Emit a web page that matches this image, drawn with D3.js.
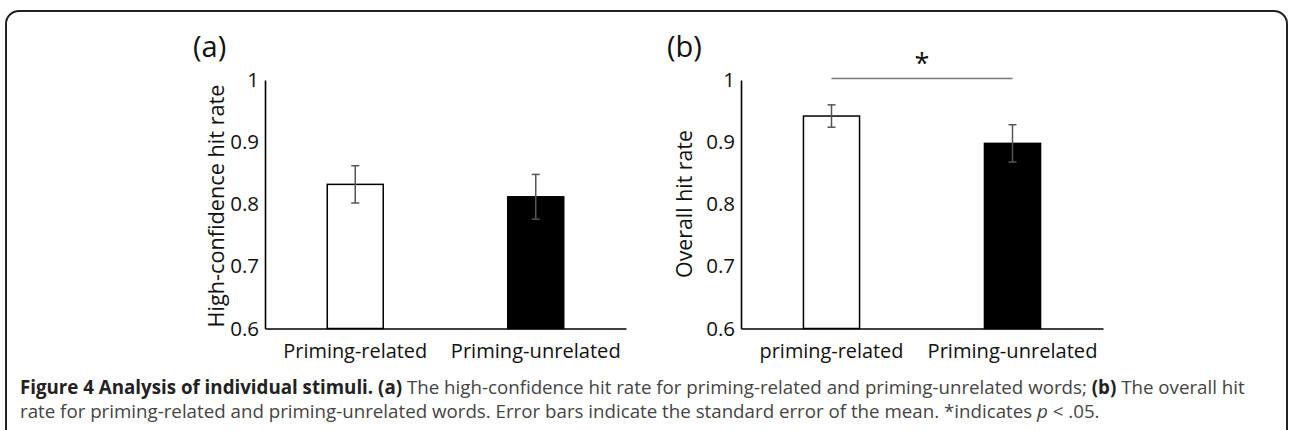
<!DOCTYPE html>
<html><head><meta charset="utf-8">
<script src="https://cdn.jsdelivr.net/npm/d3@7"></script>
<style>body{margin:0;background:#fff}svg{display:block}text{font-family:"Open Sans",sans-serif}</style>
</head><body>
<svg id="c" width="1289" height="430"></svg>
<script>
// ---- data ----
const categoriesA = ["Priming-related", "Priming-unrelated"];
const categoriesB = ["priming-related", "Priming-unrelated"];
const highConfMean = [0.832, 0.812];
const highConfSE = [0.030, 0.036];
const overallMean = [0.942, 0.898];
const overallSE = [0.018, 0.030];
const yTicks = [0.6, 0.7, 0.8, 0.9, 1];
const barFills = ["#ffffff", "#000000"];

const svg = d3.select("#c");

function fit(sel, target) {
  const n = sel.node();
  const fs = parseFloat(sel.attr("font-size"));
  const w = n.getComputedTextLength();
  sel.attr("font-size", fs * target / w);
}

// outer rounded frame
svg.append("rect").attr("x", 6).attr("y", 11).attr("width", 1281).attr("height", 440)
  .attr("rx", 13).attr("fill", "none").attr("stroke", "#222").attr("stroke-width", 2);

function panel(opt) {
  const g = svg.append("g").attr("transform", `translate(${opt.x0},0)`);
  const y = d3.scaleLinear().domain([0.6, 1]).range([328.5, 80]);
  const x = d3.scaleBand().domain(opt.cats).range([0, opt.w]).paddingInner(0.69).paddingOuter(0.345);

  // y axis
  const ya = g.append("g").call(d3.axisLeft(y).tickValues(yTicks).tickSize(0).tickPadding(6)
      .tickFormat(d => d === 1 ? "1" : d3.format(".1f")(d)));
  ya.select(".domain").attr("stroke", "#000").attr("stroke-width", 1.6);
  ya.selectAll("text").attr("font-size", 20.5).attr("fill", "#111").style("font-family", '"Open Sans",sans-serif');

  // bars
  g.selectAll("rect.bar").data(opt.mean).join("rect").attr("class", "bar")
    .attr("x", (d, i) => x(opt.cats[i])).attr("width", x.bandwidth())
    .attr("y", d => y(d)).attr("height", d => y(0.6) - y(d))
    .attr("fill", (d, i) => barFills[i]).attr("stroke", "#000").attr("stroke-width", 1.5);

  // x axis line
  const xa = g.append("g").attr("transform", `translate(0,${y(0.6)})`)
    .call(d3.axisBottom(x).tickSize(0).tickFormat(""));
  xa.select(".domain").attr("stroke", "#000").attr("stroke-width", 1.6);

  // error bars
  const eb = g.selectAll("g.err").data(opt.mean).join("g").attr("class", "err")
    .attr("stroke", "#555").attr("stroke-width", 1.5);
  eb.append("line").attr("x1", (d, i) => x(opt.cats[i]) + x.bandwidth() / 2)
    .attr("x2", (d, i) => x(opt.cats[i]) + x.bandwidth() / 2)
    .attr("y1", (d, i) => y(d + opt.se[i])).attr("y2", (d, i) => y(d - opt.se[i]));
  [1, -1].forEach(s => {
    eb.append("line").attr("x1", (d, i) => x(opt.cats[i]) + x.bandwidth() / 2 - 4)
      .attr("x2", (d, i) => x(opt.cats[i]) + x.bandwidth() / 2 + 4)
      .attr("y1", (d, i) => y(d + s * opt.se[i])).attr("y2", (d, i) => y(d + s * opt.se[i]));
  });

  // category labels
  opt.cats.forEach((c, i) => {
    const t = g.append("text").attr("x", x(c) + x.bandwidth() / 2).attr("y", 358)
      .attr("text-anchor", "middle").attr("font-size", 18).attr("fill", "#111").text(c);
    fit(t, opt.labelW[i]);
  });

  // y title
  const yt = g.append("text").attr("transform", `translate(${opt.titleX},${opt.titleY}) rotate(-90)`)
    .attr("text-anchor", "middle").attr("dy", "0.35em").attr("font-size", 20).attr("fill", "#111").text(opt.title);
  fit(yt, opt.titleW);

  // panel letter
  g.append("text").attr("x", opt.letterX).attr("y", 57).attr("font-size", 29).attr("fill", "#111").text(opt.letter);

  return {g, x, y};
}

panel({x0: 265, w: 361, cats: categoriesA, mean: highConfMean, se: highConfSE,
  labelW: [144, 170], title: "High-confidence hit rate", titleX: -49, titleY: 206, titleW: 243,
  letter: "(a)", letterX: -72});

const pb = panel({x0: 741, w: 362, cats: categoriesB, mean: overallMean, se: overallSE,
  labelW: [144, 170], title: "Overall hit rate", titleX: -56, titleY: 204, titleW: 148,
  letter: "(b)", letterX: -74});

// significance bar
const c0 = pb.x(categoriesB[0]) + pb.x.bandwidth() / 2, c1 = pb.x(categoriesB[1]) + pb.x.bandwidth() / 2;
pb.g.append("line").attr("x1", c0).attr("x2", c1).attr("y1", 78.5).attr("y2", 78.5)
  .attr("stroke", "#777").attr("stroke-width", 1.5);
pb.g.append("text").attr("x", (c0 + c1) / 2).attr("y", 73).attr("text-anchor", "middle")
  .attr("font-size", 27).attr("fill", "#111").text("*");

// caption
const cap1 = svg.append("text").attr("x", 20).attr("y", 394).attr("font-size", 16).attr("fill", "#444");
cap1.append("tspan").attr("font-weight", "bold").attr("fill", "#222").text("Figure 4 Analysis of individual stimuli. (a)");
cap1.append("tspan").text(" The high-confidence hit rate for priming-related and priming-unrelated words; ");
cap1.append("tspan").attr("font-weight", "bold").attr("fill", "#222").text("(b)");
cap1.append("tspan").text(" The overall hit");
const fs0 = 16, w1 = cap1.node().getComputedTextLength();
const fs = fs0 * 1225 / w1;
cap1.attr("font-size", fs);
const cap2 = svg.append("text").attr("x", 20).attr("y", 418).attr("font-size", fs).attr("fill", "#444");
cap2.append("tspan").text("rate for priming-related and priming-unrelated words. Error bars indicate the standard error of the mean. *indicates ");
cap2.append("tspan").attr("font-style", "italic").text("p");
cap2.append("tspan").text(" < .05.");
</script>
</body></html>
